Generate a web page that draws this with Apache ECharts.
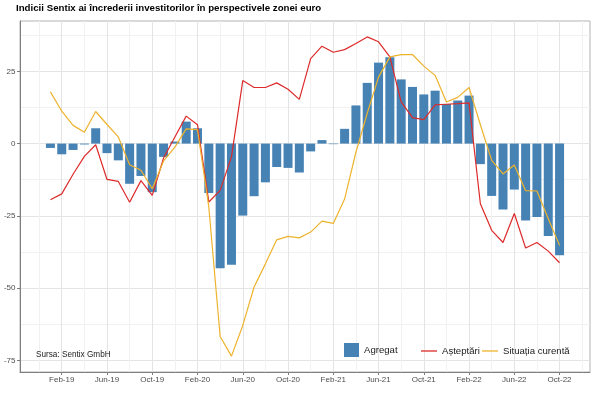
<!DOCTYPE html>
<html><head><meta charset="utf-8">
<script src="https://cdn.jsdelivr.net/npm/echarts@6/dist/echarts.min.js"></script>
<style>html,body{margin:0;padding:0;background:#fff}#c{width:600px;height:398px}</style>
</head><body><div id="c"></div>
<script>
const months = ['Jan-19','Feb-19','Mar-19','Apr-19','May-19','Jun-19','Jul-19','Aug-19','Sep-19','Oct-19','Nov-19','Dec-19',
  'Jan-20','Feb-20','Mar-20','Apr-20','May-20','Jun-20','Jul-20','Aug-20','Sep-20','Oct-20','Nov-20','Dec-20',
  'Jan-21','Feb-21','Mar-21','Apr-21','May-21','Jun-21','Jul-21','Aug-21','Sep-21','Oct-21','Nov-21','Dec-21',
  'Jan-22','Feb-22','Mar-22','Apr-22','May-22','Jun-22','Jul-22','Aug-22','Sep-22','Oct-22'];
const agregat = [-1.5,-3.7,-2.2,-0.3,5.3,-3.3,-5.8,-13.9,-11.2,-16.8,-4.6,0.7,
  7.6,5.3,-17.1,-43.1,-41.9,-24.9,-18.2,-13.4,-8.1,-8.4,-10.0,-2.7,
  1.2,-0.2,5.1,13.2,21.0,28.0,29.9,22.2,19.6,17.0,18.3,13.7,
  14.9,16.6,-7.1,-18.1,-22.8,-15.9,-26.6,-25.4,-32.0,-38.6];
const asteptari = [-19.4,-17.4,-10.6,-4.4,-0.4,-12.4,-13.1,-20.3,-12.8,-17.9,-5.0,2.3,
  9.5,6.5,-20.2,-16.2,-4.6,21.8,19.4,19.4,21.0,18.8,15.3,29.4,
  33.7,31.6,32.5,34.6,36.9,35.2,30.0,14.4,9.0,8.3,13.4,13.6,
  13.8,14.1,-20.8,-30.0,-34.2,-24.2,-36.1,-34.2,-37.2,-41.2];
const situatia = [17.9,11.2,6.3,3.9,11.1,6.6,2.3,-7.3,-9.2,-15.6,-6.0,-1.2,
  5.1,4.8,-22.0,-66.7,-73.5,-62.9,-49.6,-41.6,-33.3,-32.1,-32.6,-30.6,
  -26.8,-27.6,-19.2,-3.0,10.5,23.0,30.0,30.8,30.8,26.8,23.6,14.4,
  16.0,19.4,6.5,-5.8,-10.5,-7.4,-16.3,-16.4,-26.0,-35.2];
const xTickLabels = ['Feb-19','Jun-19','Oct-19','Feb-20','Jun-20','Oct-20','Feb-21','Jun-21','Oct-21','Feb-22','Jun-22','Oct-22'];
const yTicks = [-75,-50,-25,0,25];
const yMinor = [-62.5,-37.5,-12.5,12.5,37.5];

const FONT = 'Liberation Sans, Arial, sans-serif';
const xMajor = xTickLabels.map(l => months.indexOf(l));
const xMinor = [xMajor[0]-2].concat(xMajor.map(v => v + 2));
const XMIN = -2.69, XMAX = 47.69, YMIN = -79, YMAX = 42.4;
const toPts = arr => arr.map((v, i) => [i, v]);

const chart = echarts.init(document.getElementById('c'), null, {renderer: 'canvas'});
chart.setOption({
  animation: false,
  backgroundColor: '#fff',
  title: [
    {text: 'Indicii Sentix ai încrederii investitorilor în perspectivele zonei euro', left: 16, top: 3.5,
     textStyle: {fontFamily: FONT, fontSize: 9.7, fontWeight: 'bold', color: '#000'}, padding: 0},
    {text: 'Sursa: Sentix GmbH', left: 36, top: 351,
     textStyle: {fontFamily: FONT, fontSize: 8.2, fontWeight: 'normal', color: '#1a1a1a'}, padding: 0}
  ],
  grid: {left: 20, top: 21, width: 570, height: 351, show: true, borderColor: '#b3b3b3', borderWidth: 1, containLabel: false},
  legend: [
    {data: ['Agregat'], left: 344, top: 343, itemWidth: 15, itemHeight: 14, icon: 'rect', padding: 0, selectedMode: false,
     textStyle: {fontFamily: FONT, fontSize: 9.6, color: '#1a1a1a'}},
    {data: [{name: 'Așteptări', icon: 'rect'}], left: 421, top: 346, itemWidth: 16, itemHeight: 1.3, padding: 0, selectedMode: false,
     textStyle: {fontFamily: FONT, fontSize: 9.6, color: '#1a1a1a'}},
    {data: [{name: 'Situația curentă', icon: 'rect'}], left: 482, top: 346, itemWidth: 16, itemHeight: 1.3, padding: 0, selectedMode: false,
     textStyle: {fontFamily: FONT, fontSize: 9.6, color: '#1a1a1a'}}
  ],
  xAxis: [
    {type: 'value', min: XMIN, max: XMAX, position: 'bottom',
     axisLine: {show: true, onZero: false, lineStyle: {color: '#7f7f7f', width: 1}},
     axisTick: {show: true, length: 3, customValues: xMajor, lineStyle: {color: '#7f7f7f'}},
     axisLabel: {show: true, customValues: xMajor, formatter: v => months[Math.round(v)] || '', margin: 4,
                 fontFamily: FONT, fontSize: 8, color: '#4d4d4d'},
     splitLine: {show: true, lineStyle: {color: '#e4e4e4', width: 1}}},
    {type: 'value', min: XMIN, max: XMAX, position: 'bottom',
     axisLine: {show: false}, axisLabel: {show: false},
     axisTick: {show: false, customValues: xMinor},
     splitLine: {show: true, lineStyle: {color: '#f1f1f1', width: 1}}}
  ],
  yAxis: [
    {type: 'value', min: YMIN, max: YMAX,
     axisLine: {show: true, onZero: false, lineStyle: {color: '#7f7f7f', width: 1}},
     axisTick: {show: true, length: 3, customValues: yTicks, lineStyle: {color: '#7f7f7f'}},
     axisLabel: {show: true, customValues: yTicks, margin: 4.5, fontFamily: FONT, fontSize: 8, color: '#4d4d4d'},
     splitLine: {show: true, lineStyle: {color: '#e4e4e4', width: 1}}},
    {type: 'value', min: YMIN, max: YMAX, position: 'left',
     axisLine: {show: false}, axisLabel: {show: false},
     axisTick: {show: false, customValues: yMinor},
     splitLine: {show: true, lineStyle: {color: '#f1f1f1', width: 1}}}
  ],
  series: [
    {name: 'Agregat', type: 'bar', data: toPts(agregat), barWidth: 9, itemStyle: {color: '#4682b4'}, xAxisIndex: 0, yAxisIndex: 0},
    {name: 'Așteptări', type: 'line', data: toPts(asteptari), symbol: 'none', showSymbol: false,
     lineStyle: {color: '#dd2a2a', width: 1.2}, itemStyle: {color: '#dd2a2a'}, xAxisIndex: 0, yAxisIndex: 0},
    {name: 'Situația curentă', type: 'line', data: toPts(situatia), symbol: 'none', showSymbol: false,
     lineStyle: {color: '#eeb32c', width: 1.2}, itemStyle: {color: '#eeb32c'}, xAxisIndex: 0, yAxisIndex: 0}
  ]
});
</script></body></html>
